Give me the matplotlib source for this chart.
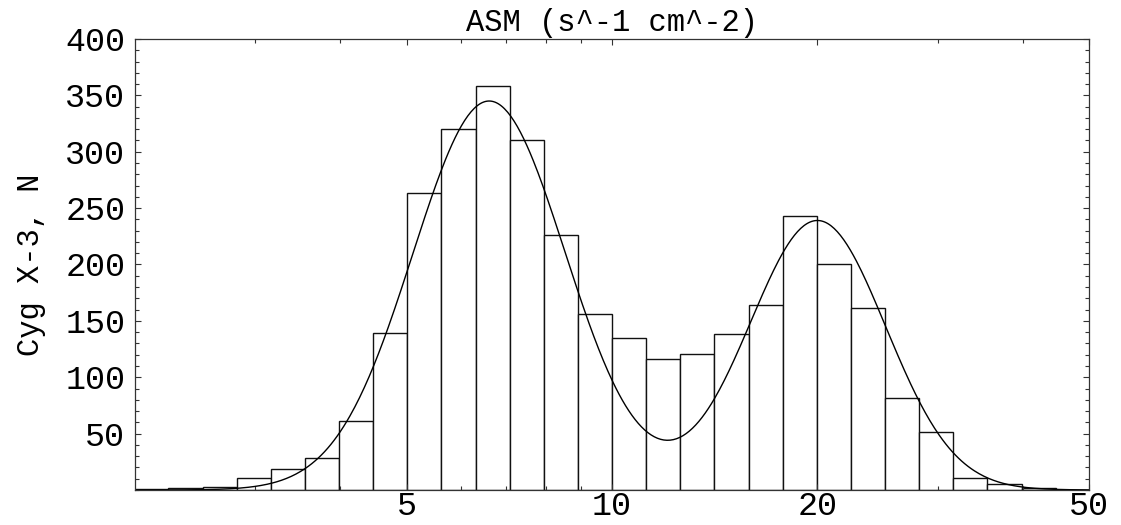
import numpy as np
import matplotlib.pyplot as plt
from matplotlib.ticker import FixedLocator, NullFormatter, MultipleLocator

# histogram: log10 bin edges start at 0.30, step 0.05
edge_start = 0.30
edge_step = 0.05
counts = [1, 2, 3, 11, 19, 28, 61, 139, 263, 320, 358, 310, 226, 156,
          135, 116, 121, 138, 164, 243, 200, 161, 82, 51, 11, 5, 1.5, 0]

# two-gaussian fit in log10(flux)
amp1, mu1, sig1 = 345.0, 0.820, 0.112
amp2, mu2, sig2 = 239.0, 1.301, 0.100

x_major = [5, 10, 20, 50]
x_minor = [3, 4, 6, 7, 8, 9, 30, 40]
y_major = [50, 100, 150, 200, 250, 300, 350, 400]

mono = 'Liberation Mono'

edges = 10 ** (edge_start + edge_step * np.arange(len(counts) + 1))

fig = plt.figure(figsize=(11.21, 5.25), dpi=100)
ax = fig.add_axes([0.1204, 0.0667, 0.8511, 0.8590])

ax.bar(edges[:-1], counts, width=np.diff(edges), align='edge',
       facecolor='white', edgecolor='#111111', linewidth=1.0)

lx = np.linspace(np.log10(2), np.log10(50), 600)
fit = amp1 * np.exp(-(lx - mu1) ** 2 / (2 * sig1 ** 2)) + \
      amp2 * np.exp(-(lx - mu2) ** 2 / (2 * sig2 ** 2))
ax.plot(10 ** lx, fit, color='black', linewidth=1.0)

ax.set_xscale('log')
ax.set_xlim(2, 50)
ax.set_ylim(0, 400)

ax.xaxis.set_major_locator(FixedLocator(x_major))
ax.xaxis.set_minor_locator(FixedLocator(x_minor))
ax.xaxis.set_minor_formatter(NullFormatter())
ax.set_xticklabels([str(v) for v in x_major])
ax.yaxis.set_major_locator(FixedLocator(y_major))
ax.yaxis.set_minor_locator(MultipleLocator(10))
ax.set_yticklabels([str(v) for v in y_major])

ax.tick_params(which='both', direction='in', top=True, right=True,
               color='#333333', width=0.8)
ax.tick_params(which='major', length=4.5, labelsize=24)
ax.tick_params(which='minor', length=2.8)
ax.tick_params(axis='x', which='major', pad=1)
ax.tick_params(axis='y', which='major', pad=7)
for lab in ax.get_xticklabels() + ax.get_yticklabels():
    lab.set_family(mono)

for s in ax.spines.values():
    s.set_color('#333333')
    s.set_linewidth(0.9)

ax.set_title('ASM (s^-1 cm^-2)', family=mono, fontsize=22, pad=6)
ax.set_ylabel('Cyg X-3, N', family=mono, fontsize=22, labelpad=14)

fig.savefig('out.png', dpi=100)
